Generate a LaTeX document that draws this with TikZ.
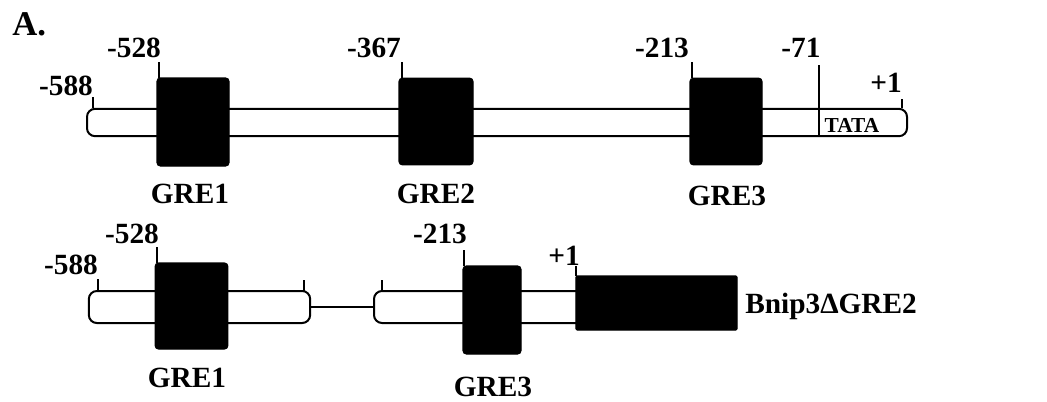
\documentclass[tikz,border=0pt]{standalone}
\usepackage{fontspec}
\setmainfont{Liberation Serif}
\begin{document}
\begin{tikzpicture}[x=0.75pt,y=-0.75pt,
  bar/.style={draw=black, fill=white, line width=1.5pt, rounded corners=6pt, inner sep=0pt},
  gbox/.style={draw=black, fill=black, line width=0.8pt, rounded corners=2.5pt, inner sep=0pt},
  tick/.style={line width=1pt},
  lbl/.style={font=\bfseries\fontsize{22}{22}\selectfont, inner sep=0pt, anchor=base},
  link/.style={line width=1.3pt}]
\useasboundingbox (0,0) rectangle (1047,401);
\node[font=\bfseries\fontsize{26}{26}\selectfont, inner sep=0pt, anchor=base west] (A) at (12,35) {A.};
% ---------- Row 1 ----------
\node[bar, minimum width=615pt, minimum height=20.5pt] (bar1) at (497,122.5) {};
\draw[line width=1pt] (819,65) -- (819,137);
\node[font=\bfseries\fontsize{16}{16}\selectfont, inner sep=0pt, anchor=base] (tata) at (852,132) {TATA};
\node[gbox, minimum width=54pt, minimum height=66pt] (g1) at (193,122) {};
\node[gbox, minimum width=55.5pt, minimum height=65pt] (g2) at (436,121.5) {};
\node[gbox, minimum width=54pt, minimum height=65pt] (g3) at (726,121.5) {};
\draw[tick] (93,97) -- (93,108);
\draw[tick] (159,62) -- (159,78);
\draw[tick] (402,62) -- (402,78);
\draw[tick] (692,62) -- (692,78);
\draw[tick] (902,99) -- (902,108);
\node[lbl] (l588a) at (66,95) {-588};
\node[lbl] (l528a) at (134,57) {-528};
\node[lbl] (l367a) at (374,57) {-367};
\node[lbl] (l213a) at (662,57) {-213};
\node[lbl] (l71a) at (801,57) {-71};
\node[lbl] (l1a) at (886,92) {+1};
\node[lbl] (n1) at (190,203) {GRE1};
\node[lbl] (n2) at (436,203) {GRE2};
\node[lbl] (n3) at (727,205) {GRE3};
% ---------- Row 2 ----------
\node[bar, minimum width=166pt, minimum height=24pt] (s1) at (199.5,307) {};
\node[bar, minimum width=165pt, minimum height=24pt] (s2) at (484,307) {};
\draw[link] (s1.east) -- (s2.west);
\node[gbox, minimum width=54.5pt, minimum height=64.5pt] (h1) at (191.5,306) {};
\node[gbox, minimum width=43.5pt, minimum height=66pt] (h3) at (492,310) {};
\node[gbox, minimum width=121pt, minimum height=40.5pt, rounded corners=1pt] (bn) at (656.5,303) {};
\draw[tick] (98,279) -- (98,291);
\draw[tick] (157,247) -- (157,263);
\draw[tick] (304,280) -- (304,291);
\draw[tick] (382,280) -- (382,291);
\draw[tick] (464,250) -- (464,266);
\draw[tick] (576,266) -- (576,276);
\node[lbl] (l588b) at (71,274) {-588};
\node[lbl] (l528b) at (132,243) {-528};
\node[lbl] (l213b) at (440,243) {-213};
\node[lbl] (l1b) at (564,265) {+1};
\node[lbl, anchor=base west] (bnl) at (745,313) {Bnip3ΔGRE2};
\node[lbl] (m1) at (187,387) {GRE1};
\node[lbl] (m3) at (493,396) {GRE3};
\end{tikzpicture}
\end{document}
